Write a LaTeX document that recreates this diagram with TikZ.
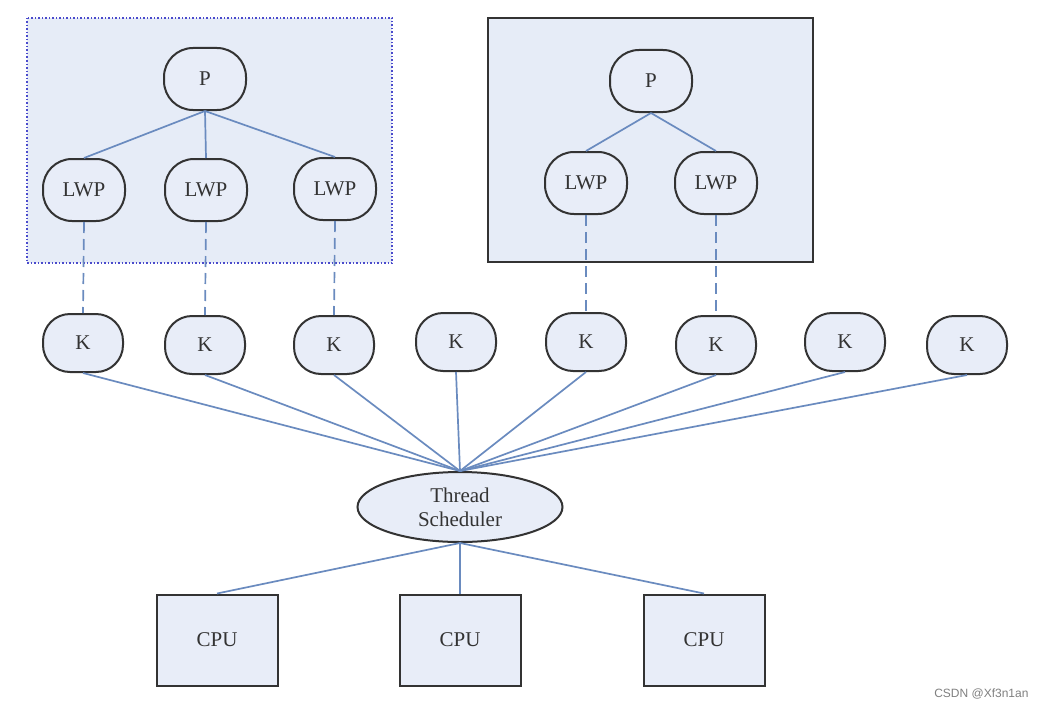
\documentclass[tikz,border=0pt]{standalone}
\usepackage{fontspec}
\setmainfont{Liberation Serif}
\newfontfamily\wmfont{Liberation Sans}
\usetikzlibrary{shapes.geometric}
\definecolor{nodefill}{HTML}{E8EDF8}
\definecolor{boxfill}{HTML}{E6ECF7}
\definecolor{edgeblue}{HTML}{6A8BBF}
\definecolor{dotblue}{HTML}{4A4ACC}
\definecolor{darkline}{HTML}{333333}
\begin{document}
\begin{tikzpicture}[x=1pt,y=-1pt,
  txt/.style={font=\fontsize{21}{24}\selectfont, text=darkline},
  rnode/.style={txt, draw=darkline, line width=2pt, fill=nodefill, rounded corners=29pt,
    minimum width=82pt, minimum height=62pt, inner sep=0pt},
  knode/.style={rnode, minimum width=80pt, minimum height=58pt, rounded corners=27pt},
  cpubox/.style={txt, draw=darkline, line width=2pt, fill=nodefill, minimum width=121pt, minimum height=91pt, inner sep=0pt},
  sched/.style={txt, ellipse, draw=darkline, line width=2pt, fill=nodefill, minimum width=205pt, minimum height=70pt, inner sep=0pt, align=center},
  link/.style={draw=edgeblue, line width=1.7pt},
  dlink/.style={link, dash pattern=on 11pt off 6pt}
]
\useasboundingbox (0,0) rectangle (1048,709);
\fill[white] (0,0) rectangle (1048,709);

% process boxes
\draw[fill=boxfill, draw=dotblue, line width=1.5pt, dotted] (27,18) rectangle (392,263);
\draw[fill=boxfill, draw=darkline, line width=2pt] (488,18) rectangle (813,262);

% left process
\node[rnode] (p1) at (205,79) {P};
\node[rnode] (l1) at (84,190) {LWP};
\node[rnode] (l2) at (206,190) {LWP};
\node[rnode] (l3) at (335,189) {LWP};
% right process
\node[rnode] (p2) at (651,81) {P};
\node[rnode] (l4) at (586,183) {LWP};
\node[rnode] (l5) at (716,183) {LWP};

% kernel threads
\node[knode] (k1) at (83,343) {K};
\node[knode] (k2) at (205,345) {K};
\node[knode] (k3) at (334,345) {K};
\node[knode] (k4) at (456,342) {K};
\node[knode] (k5) at (586,342) {K};
\node[knode] (k6) at (716,345) {K};
\node[knode] (k7) at (845,342) {K};
\node[knode] (k8) at (967,345) {K};

% scheduler
\node[sched] (ts) at (460,507) {Thread\\Scheduler};

% CPUs
\node[cpubox] (c1) at (217,640) {CPU};
\node[cpubox] (c2) at (460,640) {CPU};
\node[cpubox] (c3) at (704,640) {CPU};

% P to LWP
\foreach \l in {l1,l2,l3} \draw[link] (p1.south) -- (\l.north);
\foreach \l in {l4,l5} \draw[link] (p2.south) -- (\l.north);

% LWP to K dashed
\draw[dlink] (l1.south) -- (k1.north);
\draw[dlink] (l2.south) -- (k2.north);
\draw[dlink] (l3.south) -- (k3.north);
\draw[dlink] (l4.south) -- (k5.north);
\draw[dlink] (l5.south) -- (k6.north);

% K to scheduler
\foreach \k in {k1,k2,k3,k4,k5,k6,k7,k8} \draw[link] (\k.south) -- (ts.north);

% scheduler to CPU
\foreach \c in {c1,c2,c3} \draw[link] (ts.south) -- (\c.north);

% watermark
\node[font=\wmfont\fontsize{12}{14}\selectfont, text=gray, anchor=east] (wm) at (1032,694) {CSDN @Xf3n1an};
\end{tikzpicture}
\end{document}
